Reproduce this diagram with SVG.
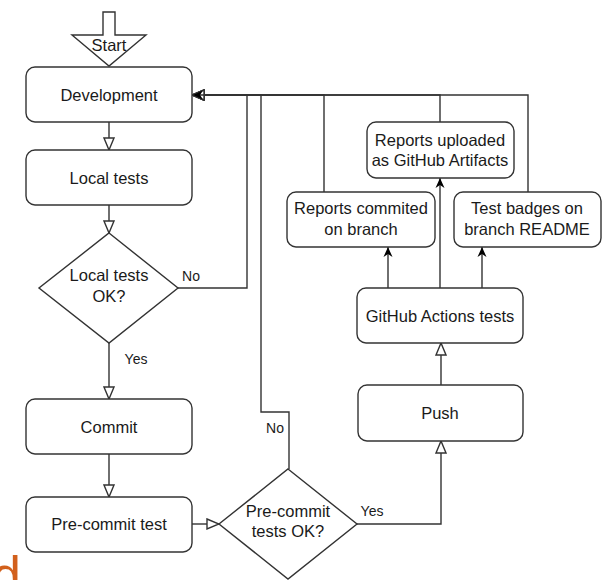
<svg xmlns="http://www.w3.org/2000/svg" width="602" height="580" viewBox="0 0 602 580">
<style>
.box{fill:#fff;stroke:#333;stroke-width:1.4}
.t{font-family:"Liberation Sans",Arial,sans-serif;font-size:16.5px;fill:#1a1a1a;text-anchor:middle}
.lbl{font-family:"Liberation Sans",Arial,sans-serif;font-size:14px;fill:#1a1a1a;text-anchor:middle}
.c{fill:none;stroke:#333;stroke-width:1.4}
</style>
<defs>
<marker id="open" viewBox="0 0 14 12" refX="13" refY="6" markerWidth="14" markerHeight="12" orient="auto" markerUnits="userSpaceOnUse"><path d="M1,1 L13,6 L1,11 Z" fill="#fff" stroke="#333" stroke-width="1.4"/></marker>
<marker id="fill" viewBox="0 0 10 10" refX="10" refY="5" markerWidth="10" markerHeight="10" orient="auto" markerUnits="userSpaceOnUse"><path d="M0,0.5 L10,5 L0,9.5 L3,5 Z" fill="#000"/></marker>
</defs>
<rect width="602" height="580" fill="#fff"/>
<g id="connectors">
<path class="c" d="M109,122 V150" marker-end="url(#open)"/>
<path class="c" d="M109,205 V233" marker-end="url(#open)"/>
<path class="c" d="M109,343 V399" marker-end="url(#open)"/>
<path class="c" d="M109,454 V497" marker-end="url(#open)"/>
<path class="c" d="M192,524 H219" marker-end="url(#open)"/>
<path class="c" d="M357,524 H441 V441" marker-end="url(#open)"/>
<path class="c" d="M441,385 V343" marker-end="url(#open)"/>
<path class="c" d="M388,288 V247" marker-end="url(#fill)"/>
<path class="c" d="M440,288 V178" marker-end="url(#fill)"/>
<path class="c" d="M482,288 V247" marker-end="url(#fill)"/>
<path class="c" d="M178,288 H247 V95 H192" marker-end="url(#open)"/>
<path class="c" d="M289,469 V412 H261 V95 H192" marker-end="url(#open)"/>
<path class="c" d="M324,192 V95 H192" marker-end="url(#open)"/>
<path class="c" d="M528,192 V95 H192" marker-end="url(#open)"/>
<path class="c" d="M440,122 V95 H193" marker-end="url(#fill)"/>
<text class="lbl" x="191" y="281">No</text>
<text class="lbl" x="136" y="364">Yes</text>
<text class="lbl" x="275" y="433">No</text>
<text class="lbl" x="372" y="516">Yes</text>
</g>
<g id="start">
<polygon class="box" points="103,12 115,12 115,35 146,35 109,66 72,35 103,35"/>
<text class="t" x="109" y="51">Start</text>
</g>
<g id="development">
<rect class="box" x="26" y="67" width="166" height="55" rx="9"/>
<text class="t" x="109" y="101">Development</text>
</g>
<g id="local-tests">
<rect class="box" x="26" y="150" width="166" height="55" rx="9"/>
<text class="t" x="109" y="184">Local tests</text>
</g>
<g id="local-ok">
<polygon class="box" points="109,233 178,288 109,343 39,288"/>
<text class="t" x="109" y="281">Local tests</text>
<text class="t" x="109" y="302">OK?</text>
</g>
<g id="commit">
<rect class="box" x="26" y="399" width="166" height="55" rx="9"/>
<text class="t" x="109" y="433">Commit</text>
</g>
<g id="precommit-test">
<rect class="box" x="26" y="497" width="166" height="55" rx="9"/>
<text class="t" x="109" y="530">Pre-commit test</text>
</g>
<g id="precommit-ok">
<polygon class="box" points="288,469 357,524 288,579 219,524"/>
<text class="t" x="288" y="517">Pre-commit</text>
<text class="t" x="288" y="537">tests OK?</text>
</g>
<g id="push">
<rect class="box" x="358" y="385" width="165" height="56" rx="9"/>
<text class="t" x="440" y="419">Push</text>
</g>
<g id="gh-actions">
<rect class="box" x="357" y="288" width="166" height="55" rx="9"/>
<text class="t" x="440" y="322">GitHub Actions tests</text>
</g>
<g id="reports-commited">
<rect class="box" x="287" y="192" width="148" height="55" rx="9"/>
<text class="t" x="361" y="214">Reports commited</text>
<text class="t" x="361" y="235">on branch</text>
</g>
<g id="reports-uploaded">
<rect class="box" x="367" y="122" width="147" height="56" rx="9"/>
<text class="t" x="440" y="146">Reports uploaded</text>
<text class="t" x="440" y="166">as GitHub Artifacts</text>
</g>
<g id="test-badges">
<rect class="box" x="454" y="192" width="147" height="55" rx="9"/>
<text class="t" x="527" y="214">Test badges on</text>
<text class="t" x="527" y="235">branch README</text>
</g>
<text x="-8" y="593" font-family="'Liberation Sans',Arial,sans-serif" font-size="52" fill="#d2601c">d</text>
</svg>
